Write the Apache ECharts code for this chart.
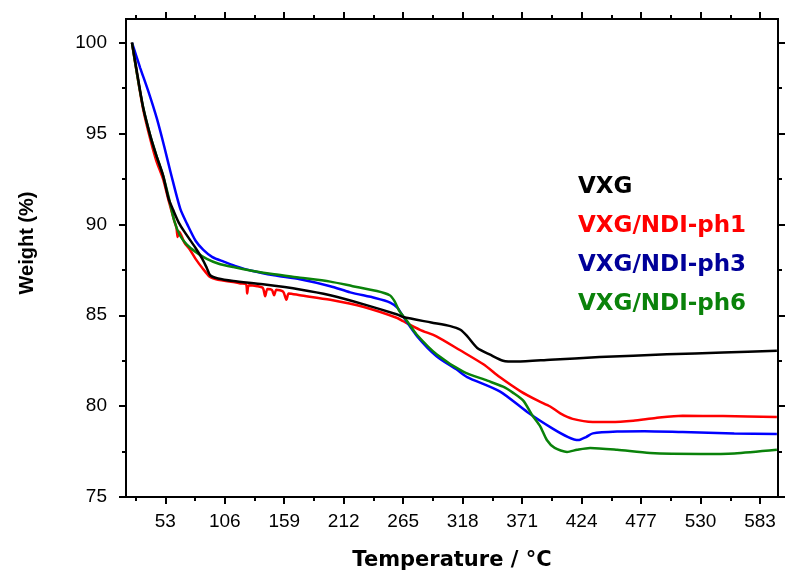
<!DOCTYPE html>
<html><head><meta charset="utf-8">
<script src="https://cdn.jsdelivr.net/npm/echarts@6/dist/echarts.min.js"></script>
<style>html,body{margin:0;padding:0;background:#fff}#c{width:785px;height:577px}</style>
</head><body><div id="c"></div>
<script>
// ---- tick values ----
const xMajorTicks = [53,106,159,212,265,318,371,424,477,530,583];
const xMinorTicks = [26.5,79.5,132.5,185.5,238.5,291.5,344.5,397.5,450.5,503.5,556.5];
const yMajorTicks = [75,80,85,90,95,100];
const yMinorTicks = [77.5,82.5,87.5,92.5,97.5];

// ---- series names / colours ----
const seriesNames = ['VXG','VXG/NDI-ph1','VXG/NDI-ph3','VXG/NDI-ph6'];
const lineColors = ['#000000','#ff0000','#0000ff','#0a820a'];
const legendColors = ['#000000','#ff0000','#000099','#0a820a'];

// ---- data: [temperature °C, weight %] ----
const vxg = [[23.3,100],[28,98.3],[33.4,96.4],[40,94.8],[45,93.8],[51,92.7],[56,91.4],[60,90.8],[65,90.1],[70,89.6],[80,88.7],[86,88.1],[90,87.6],[93,87.2],[100,87.02],[113.6,86.88],[140,86.7],[173,86.42],[200,86.1],[230,85.6],[259.7,85.04],[265,84.9],[290,84.6],[307,84.4],[316,84.2],[322,83.85],[331,83.2],[342.5,82.83],[354,82.5],[366,82.45],[396,82.55],[440,82.7],[500,82.85],[550,82.95],[598,83.05]];
const ph1 = [[23.3,100],[28,98.2],[33.4,96.3],[40,94.6],[45,93.5],[51,92.5],[56,91.3],[61,90.2],[63,89.8],[64,89.3],[65.5,89.6],[70,89.0],[75,88.6],[80,88.1],[86,87.6],[93,87.1],[100,86.95],[113.6,86.83],[120,86.75],[125,86.7],[126,86.2],[127.5,86.65],[135,86.6],[140,86.5],[142,86.05],[144,86.45],[148,86.4],[150,86.1],[152,86.4],[158,86.3],[161,85.85],[163,86.2],[173,86.1],[200,85.85],[230,85.45],[259.7,84.85],[265,84.67],[280,84.2],[295,83.83],[315,83.1],[336.5,82.3],[351,81.6],[370,80.8],[385,80.3],[396,79.98],[405,79.6],[416,79.3],[434,79.13],[450,79.13],[470,79.2],[490,79.35],[514,79.47],[550,79.45],[598,79.4]];
const ph3 = [[23.3,100],[27,99.3],[30.7,98.6],[38,97.3],[45.6,95.8],[52,94.3],[58,92.8],[66.4,90.85],[72.6,90.0],[80,89.1],[86.9,88.6],[95,88.2],[105,87.95],[115,87.72],[130,87.45],[150,87.2],[173,86.98],[200,86.6],[217.8,86.26],[240,85.95],[253.4,85.7],[260,85.4],[265,84.93],[277.5,83.84],[295,82.73],[313,82.0],[322,81.6],[351.4,80.8],[375.5,79.68],[398.6,78.75],[412,78.3],[421,78.13],[428,78.3],[434,78.5],[455.6,78.6],[480,78.62],[514,78.57],[560,78.5],[598,78.47]];
const ph6 = [[23.3,100],[28,98.2],[33.4,96.4],[40,94.8],[45,93.8],[51,92.7],[56,91.5],[61,90.2],[66,89.4],[72,88.9],[79.7,88.5],[90,88.1],[100,87.85],[113.6,87.65],[130,87.45],[150,87.25],[173,87.07],[200,86.85],[220,86.6],[241.6,86.33],[253,86.1],[257,85.8],[261,85.3],[265,84.95],[270,84.55],[277,83.94],[295,82.84],[318.5,81.9],[340,81.4],[354,81.07],[363,80.73],[372,80.3],[380,79.5],[387,78.9],[393,78.14],[400,77.7],[411,77.48],[420,77.6],[431.6,77.7],[455.6,77.6],[485,77.42],[530,77.37],[560,77.4],[598,77.6]];
const seriesData = [vxg, ph1, ph3, ph6];

const labelFont = {fontFamily:'Liberation Sans, Arial, sans-serif', fontSize:19, color:'#000'};

function xAx(pos, ticks, len, showLabel, extra) {
  return Object.assign({
    type:'value', position:pos, min:18, max:599, gridIndex:0,
    axisLine:{show:true, onZero:false, lineStyle:{color:'#000', width:2}},
    axisTick:{show:true, inside:false, length:len, customValues:ticks, lineStyle:{color:'#000', width:2}},
    axisLabel:Object.assign({show:showLabel, customValues:ticks, margin:15}, labelFont),
    splitLine:{show:false}
  }, extra || {});
}
function yAx(pos, ticks, len, showLabel, extra) {
  return Object.assign({
    type:'value', position:pos, min:75, max:101.3, gridIndex:0,
    axisLine:{show:true, onZero:false, lineStyle:{color:'#000', width:2}},
    axisTick:{show:true, inside:false, length:len, customValues:ticks, lineStyle:{color:'#000', width:2}},
    axisLabel:Object.assign({show:showLabel, customValues:ticks, margin:19}, labelFont),
    splitLine:{show:false}
  }, extra || {});
}

const drawOrder = [1,2,3,0];
const option = {
  animation:false,
  backgroundColor:'#fff',
  grid:{left:126, right:7, top:19, bottom:80},
  xAxis:[
    xAx('bottom', xMajorTicks, 7, true, {
      name:'Temperature / °C', nameLocation:'middle', nameGap:53,
      nameTextStyle:{fontFamily:'DejaVu Sans', fontWeight:'bold', fontSize:21, color:'#000'}
    }),
    xAx('bottom', xMinorTicks, 4, false),
    xAx('top', xMajorTicks, 7, false),
    xAx('top', xMinorTicks, 4, false)
  ],
  yAxis:[
    yAx('left', yMajorTicks, 7, true, {
      name:'Weight (%)', nameLocation:'middle', nameGap:89,
      nameTextStyle:{fontFamily:'Liberation Sans, Arial, sans-serif', fontWeight:'bold', fontSize:20, color:'#000', padding:[0,0,0,30]}
    }),
    yAx('left', yMinorTicks, 4, false),
    yAx('right', yMajorTicks, 7, false),
    yAx('right', yMinorTicks, 4, false)
  ],
  legend:{
    orient:'vertical', left:568, top:171, itemWidth:0, itemHeight:23, itemGap:16,
    icon:'none', selectedMode:false,
    textStyle:{fontFamily:'DejaVu Sans', fontWeight:'bold', fontSize:23},
    data: seriesNames.map((n,i)=>({name:n, textStyle:{color:legendColors[i]}}))
  },
  series: drawOrder.map(i=>({
    name:seriesNames[i], type:'line', data:seriesData[i],
    xAxisIndex:0, yAxisIndex:0, showSymbol:false, symbol:'none',
    smooth:0.25, lineStyle:{color:lineColors[i], width:2.5}, itemStyle:{color:lineColors[i]}
  }))
};
const chart = echarts.init(document.getElementById('c'), null, {renderer:'canvas'});
chart.setOption(option);
</script></body></html>
